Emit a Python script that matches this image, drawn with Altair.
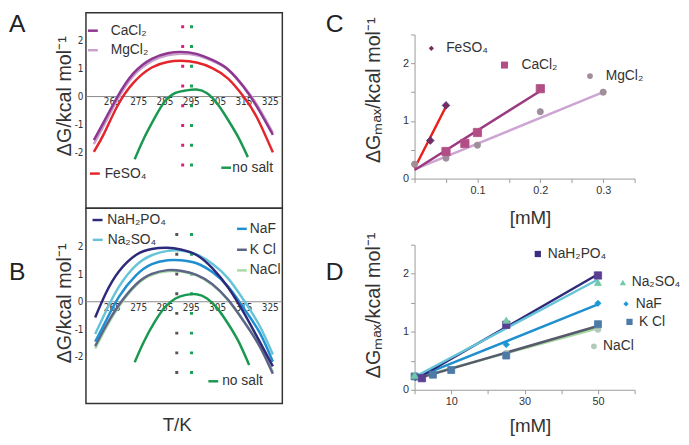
import altair as alt
import pandas as pd

FONT = "Liberation Sans, Arial, Helvetica, sans-serif"
NARROW = "Liberation Sans Narrow, Arial Narrow, DejaVu Sans Condensed, sans-serif"
INK = "#333333"
AXIS_GREY = "#9a9a9a"

# ---------------- Panel A : dG vs T ----------------
A_T = [258, 262, 267, 273, 280, 286, 291, 297, 303, 309, 315, 320, 326]
A_CACL2 = [-1.56, -0.87, 0.00, 0.83, 1.35, 1.55, 1.60, 1.53, 1.31, 0.97, 0.33, -0.37, -1.37]
A_MGCL2 = [-1.70, -1.00, -0.10, 0.74, 1.27, 1.48, 1.53, 1.48, 1.28, 0.96, 0.35, -0.30, -1.30]
A_FESO4 = [-1.98, -1.30, -0.33, 0.49, 1.04, 1.24, 1.28, 1.22, 1.02, 0.64, -0.02, -0.76, -2.00]
NOSALT_T_A = [273.5, 277, 281, 285, 289, 293, 297, 301, 305, 309, 313, 316.5]
NOSALT_A = [-2.25, -1.50, -0.78, -0.17, 0.13, 0.22, 0.25, 0.12, -0.27, -0.84, -1.48, -2.17]

# ---------------- Panel B : dG vs T ----------------
B_T = [258.5, 262.5, 267.5, 274, 280, 286, 291, 297, 303, 309, 315, 321, 326]
B_NAH2PO4 = [-0.57, 0.30, 1.10, 1.70, 1.92, 1.96, 1.90, 1.70, 1.22, 0.52, -0.40, -1.45, -2.35]
B_NA2SO4 = [-1.17, -0.36, 0.54, 1.32, 1.69, 1.85, 1.86, 1.72, 1.38, 0.85, 0.05, -0.88, -1.92]
B_NAF = [-1.45, -0.71, 0.18, 0.96, 1.37, 1.51, 1.51, 1.40, 1.08, 0.55, -0.24, -1.12, -2.18]
B_KCL = [-1.61, -0.89, -0.12, 0.63, 1.01, 1.15, 1.13, 0.98, 0.64, 0.07, -0.72, -1.62, -2.62]
B_NACL = [-1.70, -0.97, -0.17, 0.59, 0.98, 1.11, 1.10, 0.96, 0.62, 0.06, -0.70, -1.58, -2.55]
NOSALT_T_B = [273.5, 277, 281, 285, 289, 293, 297, 301, 305, 309, 313, 317]
NOSALT_B = [-2.20, -1.45, -0.75, -0.20, 0.12, 0.25, 0.27, 0.12, -0.25, -0.80, -1.45, -2.30]

T_TICKS = [265, 275, 285, 295, 305, 315, 325]
DG_TICKS = [-2, -1, 0, 1, 2]
T_DOMAIN = [255, 329.6]

# dotted marker lines (Tm positions)
A_MARK_T = [291.75, 295.1]
B_MARK_T = [289.5, 295.1]

# ---------------- Panel C : dGmax vs [mM] ----------------
C_FE_X = [0.025, 0.05]
C_FE_Y = [0.66, 1.27]
C_CA_X = [0.05, 0.08, 0.10, 0.20]
C_CA_Y = [0.47, 0.61, 0.80, 1.56]
C_MG_X = [0.0, 0.05, 0.10, 0.20, 0.30]
C_MG_Y = [0.25, 0.355, 0.58, 1.16, 1.50]
C_FIT_FE = ([0.0, 0.05], [0.18, 1.25])
C_FIT_CA = ([0.0, 0.20], [0.15, 1.52])
C_FIT_MG = ([0.0, 0.30], [0.16, 1.50])
C_XTICKS = [0, 0.05, 0.1, 0.15, 0.2, 0.25, 0.3, 0.35]

# ---------------- Panel D : dGmax vs [mM] ----------------
D_PO4_X = [2, 25, 50]
D_PO4_Y = [0.20, 1.12, 1.97]
D_SO4_X = [0, 25, 50]
D_SO4_Y = [0.25, 1.20, 1.85]
D_NAF_X = [25, 50]
D_NAF_Y = [0.78, 1.49]
D_KCL_X = [0, 5, 10, 25, 50]
D_KCL_Y = [0.23, 0.26, 0.34, 0.59, 1.13]
D_NACL_X = [25, 50]
D_NACL_Y = [0.63, 1.04]
D_FIT_PO4 = ([0, 50], [0.17, 1.99])
D_FIT_SO4 = ([0, 50], [0.22, 1.90])
D_FIT_NAF = ([0, 50], [0.20, 1.47])
D_FIT_KCL = ([0, 50], [0.18, 1.10])
D_FIT_NACL = ([0, 50], [0.20, 1.06])
D_XTICKS = [0, 10, 20, 30, 40, 50, 60]
GMAX_TICKS = [0, 0.5, 1, 1.5, 2, 2.5]

# ---------------- colours ----------------
COL = {
    "CaCl2": "#8e3690", "MgCl2": "#c9a0cc", "FeSO4": "#e3262b", "nosalt": "#1a9850",
    "NaH2PO4": "#2e2a7a", "Na2SO4": "#66c4d8", "NaF": "#1f8fd0", "KCl": "#5c6588",
    "NaCl": "#a9d9a4",
}


def series(xs, ys, name, color):
    return pd.DataFrame({"x": xs, "y": ys, "s": name, "c": color})


# =============== temperature panels ===============
def temp_panel(curves, marks, mark_cols, mark_top, mark_bot, legend, ydomain,
               xaxis, ytitle_y, letter, letter_y):
    xs = alt.Scale(domain=T_DOMAIN, nice=False, zero=False)
    ys = alt.Scale(domain=ydomain, nice=False, zero=False)
    yaxis = alt.Axis(values=DG_TICKS, domain=False, ticks=False, grid=False,
                     labelFont=NARROW, labelFontSize=10, labelColor=INK, labelPadding=3,
                     labelExpr="datum.value < 0 ? '-' + abs(datum.value) : '' + datum.value",
                     title="ΔG/kcal mol⁻¹", titleFont=FONT, titleFontSize=20,
                     titleFontWeight="normal", titleColor=INK, titleX=-16, titleY=ytitle_y,
                     titleAngle=270, titleAlign="center", titleBaseline="alphabetic")
    X = alt.X("x:Q", scale=xs, axis=xaxis)
    Y = alt.Y("y:Q", scale=ys, axis=yaxis)

    zero_df = pd.DataFrame({"x": [T_DOMAIN[0]], "x2": [T_DOMAIN[1]], "y": [0]})
    zero = alt.Chart(zero_df).mark_rule(color="#8a8a8a", strokeWidth=1).encode(
        x=X, x2="x2:Q", y=Y)

    tick_df = pd.DataFrame({"x": T_TICKS, "y": [0] * len(T_TICKS),
                            "t": [str(t) for t in T_TICKS]})
    ticks = alt.Chart(tick_df).mark_text(font=NARROW, fontSize=10, color=INK, dy=6,
                                         baseline="middle").encode(x=X, y=Y, text="t:N")

    mark_df = pd.DataFrame({"x": marks, "y": [mark_top] * len(marks),
                            "y2": [mark_bot] * len(marks), "c": mark_cols})
    dots = alt.Chart(mark_df).mark_rule(strokeWidth=3, strokeDash=[3, 17]).encode(
        x=X, y=Y, y2="y2:Q", color=alt.Color("c:N", scale=None))

    lines = alt.Chart(curves).mark_line(strokeWidth=2.5, interpolate="natural").encode(
        x=X, y=Y, color=alt.Color("c:N", scale=None), detail="s:N")

    leg_lines = alt.Chart(legend).mark_rule(strokeWidth=2.5).encode(
        x=X, x2="x2:Q", y=Y, color=alt.Color("c:N", scale=None))
    leg_text = alt.Chart(legend).mark_text(align="left", baseline="middle", font=FONT,
                                           fontSize=14, color=INK).encode(
        x=alt.X("tx:Q", scale=xs, axis=xaxis), y=Y, text="label:N")

    let = alt.Chart(pd.DataFrame({"t": [letter]})).mark_text(
        align="left", baseline="alphabetic", font=FONT, fontSize=25, color="#222222").encode(
        x=alt.value(-78), y=alt.value(letter_y), text="t:N")

    return alt.layer(zero, ticks, dots, lines, leg_lines, leg_text, let).properties(
        width=199, height=198,
        view=alt.ViewBackground(stroke="#333333", strokeWidth=1.5))


curves_A = pd.concat([
    series(NOSALT_T_A, NOSALT_A, "no salt", COL["nosalt"]),
    series(A_T, A_FESO4, "FeSO4", COL["FeSO4"]),
    series(A_T, A_MGCL2, "MgCl2", COL["MgCl2"]),
    series(A_T, A_CACL2, "CaCl2", COL["CaCl2"]),
])
legend_A = pd.DataFrame({
    "label": ["CaCl₂", "MgCl₂", "FeSO₄", "no salt"],
    "x": [255.75, 255.75, 256.5, 306.4],
    "x2": [259.5, 259.5, 260.25, 310.1],
    "tx": [264.4, 264.4, 262.1, 310.6],
    "y": [2.36, 1.66, -2.76, -2.55],
    "c": [COL["CaCl2"], COL["MgCl2"], COL["FeSO4"], COL["nosalt"]],
})
panel_A = temp_panel(curves_A, A_MARK_T, ["#d6207f", "#19a05a"], 2.55, -2.6, legend_A,
                     [-4.0, 3.0], None, 84, "A", 19)

curves_B = pd.concat([
    series(NOSALT_T_B, NOSALT_B, "no salt", COL["nosalt"]),
    series(B_T, B_NACL, "NaCl", COL["NaCl"]),
    series(B_T, B_KCL, "KCl", COL["KCl"]),
    series(B_T, B_NAF, "NaF", COL["NaF"]),
    series(B_T, B_NA2SO4, "Na2SO4", COL["Na2SO4"]),
    series(B_T, B_NAH2PO4, "NaH2PO4", COL["NaH2PO4"]),
])
legend_B = pd.DataFrame({
    "label": ["NaH₂PO₄", "Na₂SO₄", "NaF", "K Cl", "NaCl", "no salt"],
    "x": [257.5, 257.6, 312.4, 312.4, 312.4, 301.5],
    "x2": [261.3, 261.4, 316.1, 316.1, 316.1, 305.25],
    "tx": [263.1, 263.25, 317.25, 317.25, 317.25, 306.75],
    "y": [2.97, 2.25, 2.65, 1.89, 1.14, -2.89],
    "c": [COL["NaH2PO4"], COL["Na2SO4"], COL["NaF"], COL["KCl"], COL["NaCl"], COL["nosalt"]],
})
xaxis_B = alt.Axis(labels=False, ticks=False, domain=False, grid=False, title="T/K",
                   titleFont=FONT, titleFontSize=19, titleFontWeight="normal", titleColor=INK,
                   titleX=92, titleY=27, titleAlign="center", titleBaseline="alphabetic")
panel_B = temp_panel(curves_B, B_MARK_T, ["#555555", "#19a05a"], 2.5, -2.65, legend_B,
                     [-3.7, 3.4], xaxis_B, 96, "B", 73)


# =============== concentration panels ===============
def conc_panel(xdomain, xticks, xlabel_expr, fits, pts, legend, title_y, xtitle_y,
               letter, letter_y, h):
    xs = alt.Scale(domain=xdomain, nice=False, zero=False)
    ys = alt.Scale(domain=[0, 2.5], nice=False, zero=False)
    xaxis = alt.Axis(values=xticks, labelExpr=xlabel_expr, grid=False, labelOverlap=False,
                     labelFlush=False, domainColor=AXIS_GREY, tickColor=AXIS_GREY, tickSize=4,
                     labelFont=FONT, labelFontSize=11, labelColor=INK, labelPadding=2,
                     title="[mM]", titleFont=FONT, titleFontSize=19, titleFontWeight="normal",
                     titleColor=INK, titleX=117, titleY=xtitle_y, titleAlign="center",
                     titleBaseline="alphabetic")
    yaxis = alt.Axis(values=GMAX_TICKS,
                     labelExpr="datum.value == 0 || datum.value == 1 || datum.value == 2 ? format(datum.value, 'd') : ''",
                     grid=False, labelOverlap=False, labelFlush=False, domainColor=AXIS_GREY,
                     tickColor=AXIS_GREY, tickSize=4, labelFont=FONT, labelFontSize=11,
                     labelColor=INK, labelPadding=2,
                     title="ΔGₘₐₓ/kcal mol⁻¹", titleFont=FONT, titleFontSize=20,
                     titleFontWeight="normal", titleColor=INK, titleX=-36, titleY=title_y,
                     titleAngle=270, titleAlign="center", titleBaseline="alphabetic")
    X = alt.X("x:Q", scale=xs, axis=xaxis)
    Y = alt.Y("y:Q", scale=ys, axis=yaxis)

    fit_df = pd.concat([series(fx, fy, n, c) for (fx, fy), n, c in fits])
    fit = alt.Chart(fit_df).mark_line(strokeWidth=2.5).encode(
        x=X, y=Y, color=alt.Color("c:N", scale=None), detail="s:N")
    layers = [fit]
    for px, py, shape, size, fill, stroke in pts:
        d = pd.DataFrame({"x": px, "y": py})
        layers.append(alt.Chart(d).mark_point(shape=shape, size=size, filled=True, fill=fill,
                                              stroke=stroke, strokeWidth=0.8, opacity=1)
                      .encode(x=X, y=Y))
    for lab, mx, my, tx, shape, size, fill in legend:
        d = pd.DataFrame({"x": [mx], "y": [my], "tx": [tx], "label": [lab]})
        layers.append(alt.Chart(d).mark_point(shape=shape, size=size, filled=True, fill=fill,
                                              opacity=1).encode(x=X, y=Y))
        layers.append(alt.Chart(d).mark_text(align="left", baseline="middle", font=FONT,
                                             fontSize=14, color=INK)
                      .encode(x=alt.X("tx:Q", scale=xs, axis=xaxis), y=Y, text="label:N"))
    layers.append(alt.Chart(pd.DataFrame({"t": [letter]})).mark_text(
        align="left", baseline="alphabetic", font=FONT, fontSize=25, color="#222222").encode(
        x=alt.value(-90), y=alt.value(letter_y), text="t:N"))
    return alt.layer(*layers).properties(width=223, height=h)


panel_C = conc_panel(
    [0, 0.35], C_XTICKS,
    "datum.value == 0.1 || datum.value == 0.2 || datum.value == 0.3 ? format(datum.value, '.1f') : ''",
    [(C_FIT_MG, "MgCl2", "#cca6d2"), (C_FIT_CA, "CaCl2", "#9b3a80"),
     (C_FIT_FE, "FeSO4", "#e8211d")],
    [(C_MG_X, C_MG_Y, "circle", 40, "#a08e9b", "#a08e9b"),
     (C_CA_X, C_CA_Y, "square", 70, "#b34d85", "#b34d85"),
     (C_FE_X, C_FE_Y, "diamond", 60, "#7b2a5b", "#3a3a8c")],
    [("FeSO₄", 0.0267, 2.26, 0.0503, "diamond", 28, "#7b2a5b"),
     ("CaCl₂", 0.143, 1.97, 0.170, "square", 50, "#b34d85"),
     ("MgCl₂", 0.279, 1.78, 0.304, "circle", 34, "#a08e9b")],
    56, 46, "C", -3, 146)

panel_D = conc_panel(
    [0, 60], D_XTICKS,
    "datum.value == 10 || datum.value == 30 || datum.value == 50 ? format(datum.value, 'd') : ''",
    [(D_FIT_NACL, "NaCl", COL["NaCl"]), (D_FIT_KCL, "KCl", "#565a6b"),
     (D_FIT_NAF, "NaF", COL["NaF"]), (D_FIT_PO4, "NaH2PO4", COL["NaH2PO4"]),
     (D_FIT_SO4, "Na2SO4", COL["Na2SO4"])],
    [(D_NACL_X, D_NACL_Y, "circle", 36, "#b2c9bb", "#b2c9bb"),
     (D_KCL_X, D_KCL_Y, "square", 50, "#4d7aa6", "#4d7aa6"),
     (D_NAF_X, D_NAF_Y, "diamond", 40, "#1d9ad6", "#1d9ad6"),
     (D_PO4_X, D_PO4_Y, "square", 55, "#5a3f92", "#5a3f92"),
     (D_SO4_X, D_SO4_Y, "triangle-up", 50, "#72c9a7", "#72c9a7")],
    [("NaH₂PO₄", 33.6, 2.34, 36.3, "square", 40, "#3b2d80"),
     ("Na₂SO₄", 56.8, 1.85, 59.2, "triangle-up", 40, "#72c9a7"),
     ("NaF", 57.65, 1.48, 60.3, "diamond", 28, "#1d9ad6"),
     ("K Cl", 58.6, 1.17, 61.2, "square", 40, "#4d7aa6"),
     ("NaCl", 48.9, 0.75, 51.4, "circle", 34, "#b2c9bb")],
    61, 42, "D", 36, 147)

spacer = alt.Chart(pd.DataFrame({"t": [""]})).mark_text().encode(text="t:N").properties(
    width=223, height=22)

left = alt.vconcat(panel_A, panel_B, spacing=0, bounds="flush")
right = alt.vconcat(spacer, alt.vconcat(panel_C, panel_D, spacing=67, bounds="flush"),
                    spacing=0, bounds="flush")
chart = alt.hconcat(left, right, spacing=42, bounds="full").properties(
    padding=0, background="white").configure_view(strokeWidth=0)

chart.save("out.html", embed_options={"renderer": "svg", "actions": False})
